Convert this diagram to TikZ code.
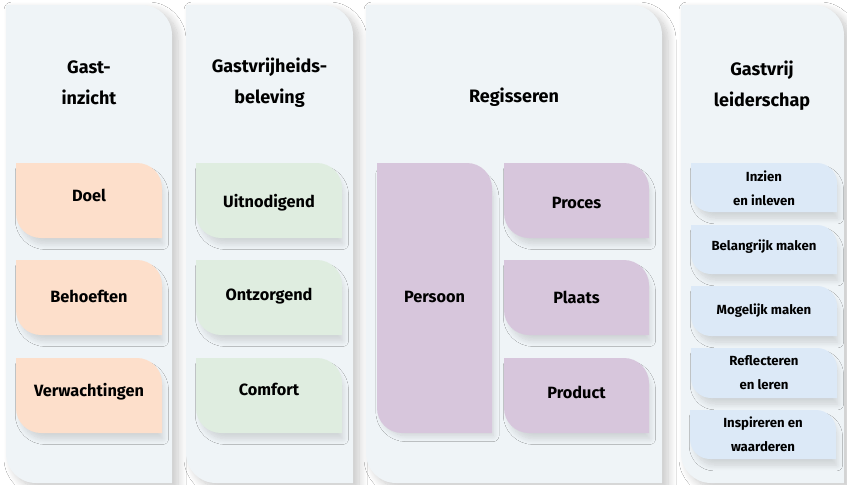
\documentclass[tikz,border=0pt]{standalone}
\usepackage{fontspec}
\setmainfont{Fira Sans}
\usetikzlibrary{shadows.blur}
\definecolor{colbg}{HTML}{EFF4F7}
\definecolor{orangebox}{HTML}{FDDFCB}
\definecolor{greenbox}{HTML}{DFEDE0}
\definecolor{purplebox}{HTML}{D7C6DC}
\definecolor{bluebox}{HTML}{DCE9F7}
\newcommand\leafshape[6]{%
  \path[#1] (#2,#3) -- ({#4-#6},#3) arc[start angle=270,end angle=360,radius=#6]
   -- (#4,#5) -- ({#2+#6},#5) arc[start angle=90,end angle=180,radius=#6] -- cycle;}
\tikzset{
  column/.style={fill=colbg,blur shadow={shadow xshift=6pt,shadow yshift=-5pt,shadow blur radius=8pt,shadow blur steps=12,shadow opacity=22}},
  boxshade/.style={blur shadow={shadow xshift=3pt,shadow yshift=-7pt,shadow scale=0.97,shadow blur radius=6pt,shadow blur steps=10,shadow opacity=14}},
  title/.style={font=\bfseries\fontsize{18}{31}\selectfont,align=center,text=black},
  boxtext/.style={font=\bfseries\fontsize{16.3}{20}\selectfont,text=black},
  smalltext/.style={font=\bfseries\fontsize{13.2}{24}\selectfont,align=center,text=black},
}
\begin{document}
\begin{tikzpicture}[x=1pt,y=-1pt]
\useasboundingbox (0,0) rectangle (847,485);
\fill[white] (0,0) rectangle (847,485);
% columns
\leafshape{column}{6}{5}{172}{483}{30}
\leafshape{column}{186}{5}{353}{483}{30}
\leafshape{column}{366}{5}{662}{483}{30}
\leafshape{column}{681}{5}{844}{483}{30}
% titles
\node[title] (t1) at (89,83) {Gast-\\inzicht};
\node[title] (t2) at (269.5,83) {Gastvrijheids-\\beleving};
\node[title] (t3) at (514,97) {Regisseren};
\node[title] (t4) at (762,86) {Gastvrij\\leiderschap};
% column 1
\leafshape{fill=orangebox,boxshade}{16}{163}{162}{238}{25}
\leafshape{fill=orangebox,boxshade}{16}{260}{162}{335}{25}
\leafshape{fill=orangebox,boxshade}{16}{358}{162}{433}{25}
\node[boxtext] (doel) at (89,195) {Doel};
\node[boxtext] (behoeften) at (89,296) {Behoeften};
\node[boxtext] (verw) at (89,392) {Verwachtingen};
% column 2
\leafshape{fill=greenbox,boxshade}{196}{163}{342}{238}{25}
\leafshape{fill=greenbox,boxshade}{196}{260}{342}{335}{25}
\leafshape{fill=greenbox,boxshade}{196}{358}{342}{433}{25}
\node[boxtext] (uitn) at (269,203) {Uitnodigend};
\node[boxtext] (ontz) at (269,296) {Ontzorgend};
\node[boxtext] (comf) at (269,389) {Comfort};
% column 3
\leafshape{fill=purplebox,boxshade}{377}{163}{492}{433}{25}
\leafshape{fill=purplebox,boxshade}{504}{163}{649}{238}{25}
\leafshape{fill=purplebox,boxshade}{504}{260}{649}{335}{25}
\leafshape{fill=purplebox,boxshade}{504}{358}{649}{433}{25}
\node[boxtext] (pers) at (434.5,297) {Persoon};
\node[boxtext] (proc) at (576.5,203) {Proces};
\node[boxtext] (plts) at (576.5,297) {Plaats};
\node[boxtext] (prod) at (576.5,392) {Product};
% column 4
\leafshape{fill=bluebox,boxshade}{691}{163}{837}{212}{20}
\leafshape{fill=bluebox,boxshade}{691}{225}{837}{274}{20}
\leafshape{fill=bluebox,boxshade}{691}{286}{837}{336}{20}
\leafshape{fill=bluebox,boxshade}{691}{348}{837}{398}{20}
\leafshape{fill=bluebox,boxshade}{690}{410}{836}{459}{20}
\node[smalltext] (inz) at (764,188) {Inzien\\en inleven};
\node[smalltext] (bel) at (764,247) {Belangrijk maken};
\node[smalltext] (mog) at (764,311) {Mogelijk maken};
\node[smalltext] (refl) at (764,373) {Reflecteren\\en leren};
\node[smalltext] (insp) at (763,434) {Inspireren en\\waarderen};
\end{tikzpicture}
\end{document}
